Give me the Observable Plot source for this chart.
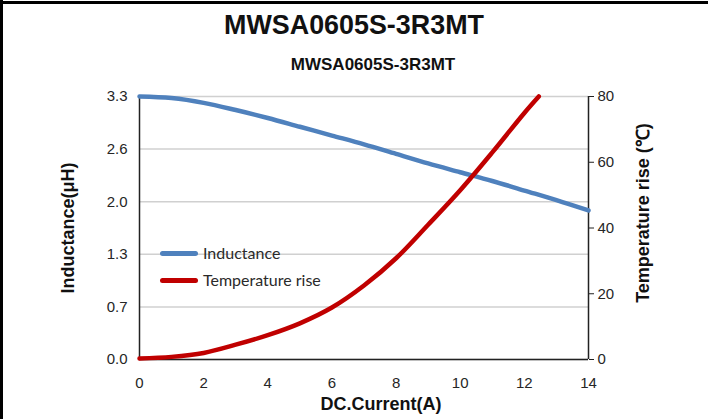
<!DOCTYPE html>
<html><head><meta charset="utf-8">
<script src="https://cdn.jsdelivr.net/npm/d3@7"></script>
<script src="https://cdn.jsdelivr.net/npm/@observablehq/plot@0.6"></script>
<style>
body{margin:0;background:#fff;}
#wrap{position:relative;width:708px;height:419px;overflow:hidden;background:#fff;font-family:"Liberation Sans",Arial,sans-serif;color:#111;}
.abs{position:absolute;}
#bt{left:0;top:1px;width:708px;height:3px;background:#000;}
#bl{left:0;top:0;width:3px;height:419px;background:#000;}
#title{left:0;width:708px;top:9px;text-align:center;font-weight:bold;font-size:28px;line-height:32px;transform:scaleX(0.96);}
#sub{left:0;width:746px;top:55px;text-align:center;font-weight:bold;font-size:17px;line-height:20px;}
#xl{left:0;width:762px;top:393px;text-align:center;font-weight:bold;font-size:18px;line-height:22px;}
.rot{white-space:nowrap;font-weight:bold;font-size:18px;line-height:22px;transform:translate(-50%,-50%) rotate(-90deg);}
#yl{left:68px;top:228px;}
#yr{left:643px;top:213px;}
.leg{font-family:"Lato","Open Sans",sans-serif;font-size:16px;color:#2a2a2a;line-height:18px;white-space:nowrap;}
.sw{position:absolute;height:5px;border-radius:3px;}
</style></head>
<body>
<div id="wrap">
  <div id="chart" class="abs" style="left:0;top:0"></div>
  <div id="bt" class="abs"></div>
  <div id="bl" class="abs"></div>
  <div id="title" class="abs">MWSA0605S-3R3MT</div>
  <div id="sub" class="abs">MWSA0605S-3R3MT</div>
  <div id="xl" class="abs">DC.Current(A)</div>
  <div id="yl" class="abs rot">Inductance(μH)</div>
  <div id="yr" class="abs rot">Temperature rise (℃)</div>
  <div class="sw abs" style="left:160px;top:251px;width:38px;background:#4f81bd"></div>
  <div class="leg abs" style="left:203px;top:244px">Inductance</div>
  <div class="sw abs" style="left:160px;top:278px;width:38px;background:#c00000"></div>
  <div class="leg abs" style="left:203px;top:271px">Temperature rise</div>
</div>
<script>
const current = [0,1,2,3,4,5,6,7,8,9,10,11,12,13,14];
const inductance = [3.30,3.28,3.22,3.13,3.03,2.92,2.81,2.70,2.58,2.46,2.35,2.24,2.12,2.00,1.87];
const tempCurrent = [0,1,2,3,4,5,6,7,8,9,10,11,12,12.45];
const tempRise = [0.3,0.8,2.0,4.5,7.4,11.0,15.8,22.5,30.8,41.0,51.5,63.0,75.0,80];
const xTicks = [0,2,4,6,8,10,12,14];
const yTicks = [0,0.66,1.32,1.98,2.64,3.3];
const tTicks = [0,20,40,60,80];
const LMAX = 3.3, TMAX = 80, k = LMAX / TMAX;

const ind = current.map((c,i)=>({c, v: inductance[i]}));
const tmp = tempCurrent.map((c,i)=>({c, t: tempRise[i]}));

const chart = Plot.plot({
  width: 708, height: 419,
  marginLeft: 139, marginRight: 120, marginTop: 96, marginBottom: 60,
  x: {domain: [0, 14]},
  y: {domain: [0, LMAX]},
  style: {fontFamily: '"Liberation Sans", Arial, sans-serif', fontSize: "15px", color: "#262626", background: "transparent", overflow: "visible"},
  marks: [
    Plot.gridY(yTicks, {stroke: "#d0d0d0", strokeOpacity: 1, strokeWidth: 1.5}),
    Plot.axisY(yTicks, {anchor: "left", tickSize: 0, tickPadding: 12, tickFormat: d => d.toFixed(1), label: null}),
    Plot.axisY(tTicks.map(t => t * k), {anchor: "right", tickSize: 5, tickPadding: 4, tickFormat: d => String(Math.round(d / k)), label: null, stroke: "#222"}),
    Plot.axisX(xTicks, {tickSize: 0, tickPadding: 18, label: null}),
    Plot.ruleX([0], {stroke: "#222", strokeWidth: 1.5}),
    Plot.ruleX([14], {stroke: "#222", strokeWidth: 1.5}),
    Plot.ruleY([0], {stroke: "#222", strokeWidth: 1.5}),
    Plot.line(ind, {x: "c", y: "v", stroke: "#4f81bd", strokeWidth: 4.5, curve: "catmull-rom"}),
    Plot.line(tmp, {x: "c", y: d => d.t * k, stroke: "#c00000", strokeWidth: 4.5, curve: "catmull-rom"})
  ]
});
document.getElementById("chart").appendChild(chart);
</script>
</body></html>
